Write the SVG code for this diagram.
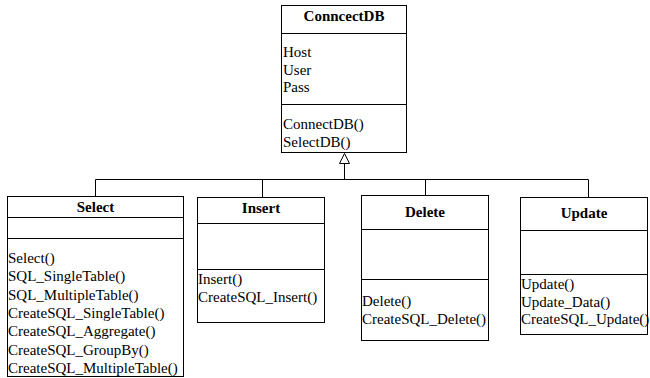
<svg xmlns="http://www.w3.org/2000/svg" width="650" height="378" viewBox="0 0 650 378">
<style>
.box{fill:#fff;stroke:#000;stroke-width:1}
.sep{stroke:#000;stroke-width:1}
text{font-family:"Liberation Serif","DejaVu Serif","Times New Roman",serif;font-size:15px;fill:#000}
.h{font-weight:bold;text-anchor:middle}
.c{fill:none;stroke:#000;stroke-width:1}
</style>
<rect width="650" height="378" fill="#fff"/>
<g id="connectors">
<path class="c" d="M344.5,163.5 V179.5 M95.5,179.5 H588.5 M95.5,179.5 V196 M262.5,179.5 V197 M425.5,179.5 V195 M588.5,179.5 V197"/>
<polygon points="344.5,153.5 339.5,163.5 349.5,163.5" fill="#fff" stroke="#000" stroke-width="1"/>
</g>
<g id="ConncectDB" font-family="Liberation Serif, serif">
<rect class="box" x="281.5" y="5.5" width="125" height="147"/>
<line class="sep" x1="281.5" y1="33.5" x2="406.5" y2="33.5"/>
<line class="sep" x1="281.5" y1="104.5" x2="406.5" y2="104.5"/>
<text class="h" x="344" y="21">ConncectDB</text>
<text x="283" y="57">Host</text>
<text x="283" y="75">User</text>
<text x="283" y="92">Pass</text>
<text x="283" y="129">ConnectDB()</text>
<text x="283" y="147">SelectDB()</text>
</g>
<g id="Select">
<rect class="box" x="7.5" y="196.5" width="176" height="180"/>
<line class="sep" x1="7.5" y1="217.5" x2="183.5" y2="217.5"/>
<line class="sep" x1="7.5" y1="238.5" x2="183.5" y2="238.5"/>
<text class="h" x="95.5" y="212">Select</text>
<text x="8" y="263">Select()</text>
<text x="8" y="281">SQL_SingleTable()</text>
<text x="8" y="299.5">SQL_MultipleTable()</text>
<text x="8" y="318">CreateSQL_SingleTable()</text>
<text x="8" y="336">CreateSQL_Aggregate()</text>
<text x="8" y="354.5">CreateSQL_GroupBy()</text>
<text x="8" y="373">CreateSQL_MultipleTable()</text>
</g>
<g id="Insert">
<rect class="box" x="197.5" y="197.5" width="127" height="125"/>
<line class="sep" x1="197.5" y1="223.5" x2="324.5" y2="223.5"/>
<line class="sep" x1="197.5" y1="269.5" x2="324.5" y2="269.5" stroke="#444" stroke-width="1.5"/>
<text class="h" x="261" y="213">Insert</text>
<text x="198" y="284">Insert()</text>
<text x="198" y="302">CreateSQL_Insert()</text>
</g>
<g id="Delete">
<rect class="box" x="361.5" y="195.5" width="127" height="145"/>
<line class="sep" x1="361.5" y1="229.5" x2="488.5" y2="229.5"/>
<line class="sep" x1="361.5" y1="279.5" x2="488.5" y2="279.5"/>
<text class="h" x="425" y="217">Delete</text>
<text x="362" y="306">Delete()</text>
<text x="362" y="324">CreateSQL_Delete()</text>
</g>
<g id="Update">
<rect class="box" x="520.5" y="197.5" width="127" height="137"/>
<line class="sep" x1="520.5" y1="230.5" x2="647.5" y2="230.5"/>
<line class="sep" x1="520.5" y1="274.5" x2="647.5" y2="274.5"/>
<text class="h" x="584" y="218">Update</text>
<text x="521" y="289">Update()</text>
<text x="521" y="307">Update_Data()</text>
<text x="521" y="324">CreateSQL_Update()</text>
</g>
</svg>
